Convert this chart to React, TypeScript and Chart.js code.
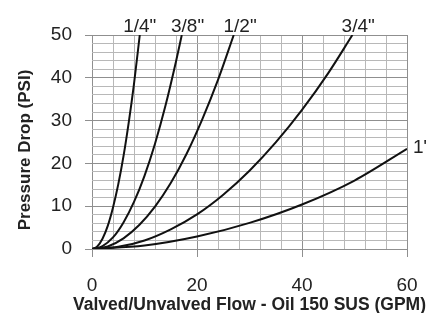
import React, { useEffect, useRef } from "react";
import { Chart, registerables } from "chart.js";

Chart.register(...registerables);

// Flow (GPM) and pressure drop (PSI)
const quarterFlow = [0, 1, 2, 3, 4, 5, 6, 7, 8, 9.1];
const quarterPsi = [0, 0.6, 2.4, 5.4, 9.7, 15.1, 21.7, 29.6, 38.6, 50];
const threeEighthFlow = [0, 2, 4, 6, 8, 10, 12, 14, 16, 17.1];
const threeEighthPsi = [0, 0.7, 2.7, 6.2, 11, 17.1, 24.6, 33.5, 43.8, 50];
const halfFlow = [0, 3, 6, 9, 12, 15, 18, 21, 24, 27];
const halfPsi = [0, 0.6, 2.5, 5.6, 9.9, 15.4, 22.2, 30.3, 39.5, 50];
const threeQuarterFlow = [0, 5, 10, 15, 20, 25, 30, 35, 40, 45, 49.6];
const threeQuarterPsi = [0, 0.5, 2.0, 4.6, 8.1, 12.7, 18.3, 24.9, 32.5, 41.1, 50];
const oneFlow = [0, 10, 20, 30, 40, 50, 60];
const onePsi = [0, 0.8, 2.9, 6.1, 10.4, 16.0, 23.4];

const sizeLabels = ['1/4"', '3/8"', '1/2"', '3/4"', '1"'];
const labelFlowAt = [9.1, 18.2, 28.2, 50.7, 60];
const labelPsiAt = [50, 50, 50, 50, 23.4];

const xMin = 0, xMax = 60, xGridStep = 4, xLabelStep = 20;
const yMin = 0, yMax = 50, yGridStep = 2, yLabelStep = 10;

const xTitle = "Valved/Unvalved Flow - Oil 150 SUS (GPM)";
const yTitle = "Pressure Drop (PSI)";

const FONT = "Arial, sans-serif";
const TEXT = "#222222";
const MAJOR = "#8f8f8f";
const MINOR = "#b8b8b8";

const series = [
  [quarterFlow, quarterPsi],
  [threeEighthFlow, threeEighthPsi],
  [halfFlow, halfPsi],
  [threeQuarterFlow, threeQuarterPsi],
  [oneFlow, onePsi],
];

const textPlugin = {
  id: "textLayer",
  afterDraw(chart: any) {
    const { ctx, scales, chartArea } = chart;
    const xs = scales.x, ys = scales.y;
    ctx.save();
    ctx.fillStyle = TEXT;
    // curve labels
    ctx.font = `19px ${FONT}`;
    sizeLabels.forEach((t, i) => {
      const px = xs.getPixelForValue(labelFlowAt[i]);
      const py = ys.getPixelForValue(labelPsiAt[i]);
      if (labelPsiAt[i] >= yMax) {
        ctx.textAlign = "center";
        ctx.textBaseline = "alphabetic";
        ctx.fillText(t, px, chartArea.top - 3);
      } else {
        ctx.textAlign = "left";
        ctx.textBaseline = "middle";
        ctx.fillText(t, chartArea.right + 6, py - 1);
      }
    });
    // x axis title
    ctx.font = `bold 17.5px ${FONT}`;
    ctx.textAlign = "center";
    ctx.textBaseline = "alphabetic";
    ctx.fillText(xTitle, (chartArea.left + chartArea.right) / 2, chartArea.bottom + 60.5);
    // y axis title
    ctx.font = `bold 17px ${FONT}`;
    ctx.translate(29.5, (chartArea.top + chartArea.bottom) / 2 + 8);
    ctx.rotate(-Math.PI / 2);
    ctx.fillText(yTitle, 0, 0);
    ctx.restore();
  },
};

export default function App() {
  const ref = useRef<HTMLCanvasElement>(null);
  useEffect(() => {
    if (!ref.current) return;
    const chart = new Chart(ref.current, {
      type: "line",
      data: {
        datasets: series.map(([fx, py], i) => ({
          label: sizeLabels[i],
          data: fx.map((f, j) => ({ x: f, y: py[j] })),
          borderColor: "#111111",
          borderWidth: 2,
          pointRadius: 0,
          fill: false,
          cubicInterpolationMode: "monotone" as const,
        })),
      },
      options: {
        animation: false,
        responsive: false,
        layout: { padding: { top: 35, right: 20, left: 0, bottom: 0 } },
        plugins: { legend: { display: false }, tooltip: { enabled: false } },
        scales: {
          x: {
            type: "linear",
            min: xMin,
            max: xMax,
            afterFit: (s: any) => {
              s.height = 64;
              s.paddingRight = 0;
              s.paddingLeft = 0;
            },
            border: { display: false },
            grid: {
              color: (c: any) => (c.tick && c.tick.value % xLabelStep === 0 ? MAJOR : MINOR),
              tickColor: (c: any) => (c.tick && c.tick.value % xLabelStep === 0 ? MAJOR : "rgba(0,0,0,0)"),
              tickLength: 8,
              lineWidth: 1,
            },
            ticks: {
              stepSize: xGridStep,
              autoSkip: false,
              maxRotation: 0,
              padding: 17,
              color: TEXT,
              font: { family: FONT, size: 19 },
              callback: (v: any) => (Number(v) % xLabelStep === 0 ? String(v) : ""),
            },
            title: { display: false },
          },
          y: {
            type: "linear",
            min: yMin,
            max: yMax,
            afterFit: (s: any) => {
              s.width = 92;
              s.paddingTop = 0;
              s.paddingBottom = 0;
            },
            border: { display: false },
            grid: {
              color: (c: any) => (c.tick && c.tick.value % yLabelStep === 0 ? MAJOR : MINOR),
              tickColor: (c: any) => (c.tick && c.tick.value % yLabelStep === 0 ? MAJOR : "rgba(0,0,0,0)"),
              tickLength: 7,
              lineWidth: 1,
            },
            ticks: {
              stepSize: yGridStep,
              autoSkip: false,
              padding: 13,
              color: TEXT,
              font: { family: FONT, size: 19 },
              callback: (v: any) => (Number(v) % yLabelStep === 0 ? String(v) : ""),
            },
            title: { display: false },
          },
        },
      },
      plugins: [textPlugin],
    });
    return () => chart.destroy();
  }, []);
  return (
    <div style={{ position: "absolute", left: 0, top: 0, width: 427, height: 313, background: "#fff" }}>
      <canvas ref={ref} width={427} height={313} style={{ display: "block" }} />
    </div>
  );
}
